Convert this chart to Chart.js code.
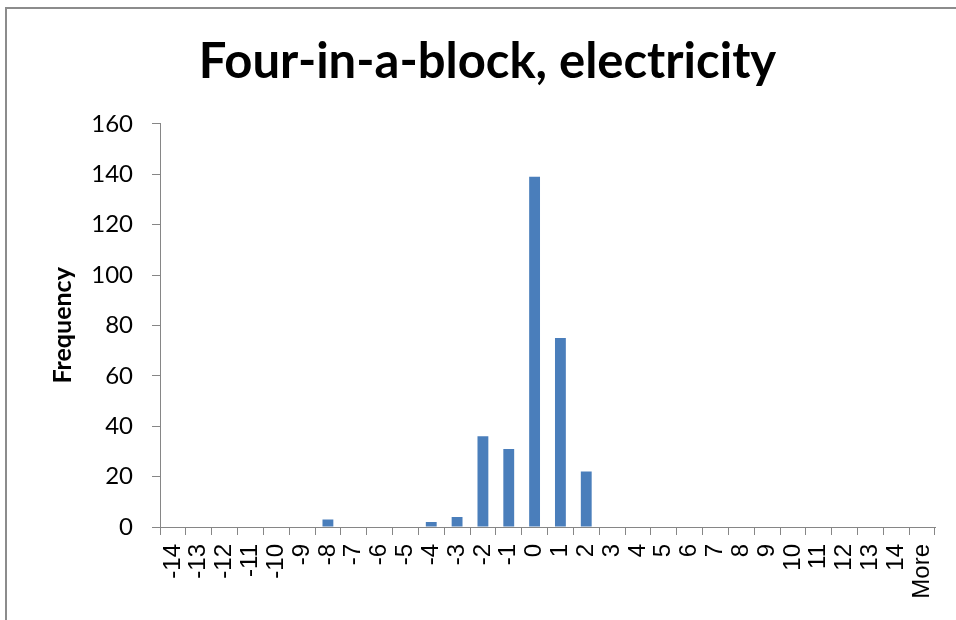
<!DOCTYPE html>
<html>
<head>
<meta charset="utf-8">
<script src="https://cdn.jsdelivr.net/npm/chart.js@4"></script>
<style>
  body { margin: 0; background: #fff; }
  .frame { position: relative; width: 956px; height: 620px; }
  .edge { position: absolute; left: 5px; top: 7px; right: 0; bottom: 0;
          border-left: 2px solid #8c8c8c; border-top: 2px solid #8c8c8c; pointer-events: none; }
  canvas { position: absolute; left: 0; top: 0; }
</style>
</head>
<body>
<div class="frame">
  <canvas id="chartFrequencia" width="956" height="620"></canvas>
  <div class="edge"></div>
</div>
<script>
// categorias do histograma (bins)
var categorias = ['-14', '-13', '-12', '-11', '-10', '-9', '-8', '-7', '-6', '-5', '-4', '-3', '-2', '-1',
                  '0', '1', '2', '3', '4', '5', '6', '7', '8', '9', '10', '11', '12', '13', '14', 'More'];

// frequencia em cada bin
var frequencias = [0, 0, 0, 0, 0, 0, 3, 0, 0, 0, 2, 4, 36, 31,
                   139, 75, 22, 0, 0, 0, 0, 0, 0, 0, 0, 0, 0, 0, 0, 0];

var ticksY = [0, 20, 40, 60, 80, 100, 120, 140, 160];

var corEixo = '#868686';

const config = {
    type: 'bar',
    data: {
        labels: categorias,
        datasets: [{
            label: 'Frequency',
            data: frequencias,
            backgroundColor: '#4a7ebb',
            borderWidth: 0,
            barPercentage: 0.42,
            categoryPercentage: 1.0
        }]
    },
    options: {
        responsive: false,
        animation: false,
        // padding esquerdo desloca o titulo para o centro do original
        layout: { padding: { left: 40, right: 21, top: 0, bottom: 0 } },
        plugins: {
            legend: { display: false },
            tooltip: { enabled: false },
            title: {
                display: true,
                text: 'Four-in-a-block, electricity',
                color: '#000',
                font: { family: 'Lato', size: 49, weight: 'bold', lineHeight: 1.2 },
                padding: { top: 33, bottom: 32 }
            }
        },
        scales: {
            x: {
                grid: { display: true, drawOnChartArea: false, drawTicks: true, tickLength: 8, color: corEixo, offset: true },
                border: { color: corEixo, width: 1 },
                ticks: {
                    color: '#000',
                    font: { family: 'Liberation Sans', size: 24 },
                    minRotation: 90, maxRotation: 90,
                    autoSkip: false,
                    padding: 9
                },
                afterFit: function (scale) {
                    scale.height = 620 - 527;
                    // o rotulo "More" nao precisa de espaco extra a direita
                    scale.paddingRight = 0;
                    scale.paddingLeft = 0;
                }
            },
            y: {
                min: 0, max: 160,
                afterBuildTicks: function (scale) { scale.ticks = ticksY.map(function (v) { return { value: v }; }); },
                grid: { display: true, drawOnChartArea: false, drawTicks: true, tickLength: 8, color: corEixo },
                border: { color: corEixo, width: 1 },
                ticks: {
                    color: '#000',
                    font: { family: 'Lato', size: 24 },
                    padding: 19
                },
                title: {
                    display: true,
                    text: 'Frequency',
                    color: '#000',
                    font: { family: 'Lato', size: 25, weight: 'bold', lineHeight: 1.2 },
                    padding: { top: 8, bottom: 0 }
                },
                afterFit: function (scale) { scale.width = 120; }
            }
        }
    }
};

let chartFrequencia = new Chart(document.getElementById('chartFrequencia'), config);
</script>
</body>
</html>
